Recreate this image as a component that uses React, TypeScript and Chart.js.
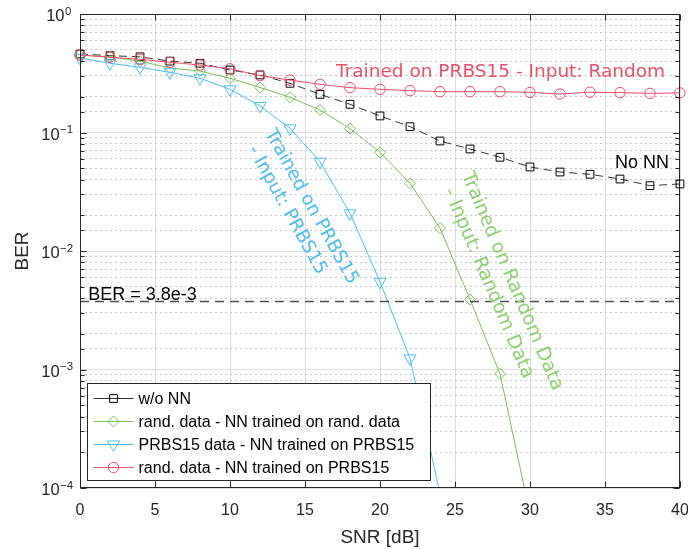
import React, { useEffect, useRef } from 'react';
import { Chart, registerables } from 'chart.js';

Chart.register(...registerables);

// ---------- data ----------
const snrDb = [0, 2, 4, 6, 8, 10, 12, 14, 16, 18, 20, 22, 24, 26, 28, 30, 32, 34, 36, 38, 40];
const berWithoutNN = [0.46, 0.445, 0.435, 0.4, 0.384, 0.337, 0.306, 0.26, 0.21, 0.173, 0.138, 0.112, 0.0848, 0.0726, 0.0618, 0.0512, 0.0464, 0.0444, 0.0405, 0.0356, 0.0368];
const berRandOnRand = [0.45, 0.435, 0.4, 0.35, 0.33, 0.287, 0.24, 0.198, 0.155, 0.108, 0.068, 0.0373, 0.0156, 0.0039, 0.00092, 0.00006, null, null, null, null, null];
const berPrbsOnPrbs = [0.425, 0.384, 0.355, 0.322, 0.287, 0.2315, 0.1675, 0.1085, 0.0567, 0.0208, 0.0055, 0.00124, 0.00009, null, null, null, null, null, null, null, null];
const berRandOnPrbs = [0.451, 0.431, 0.415, 0.391, 0.371, 0.345, 0.302, 0.277, 0.255, 0.239, 0.2315, 0.2254, 0.221, 0.221, 0.221, 0.218, 0.211, 0.219, 0.217, 0.214, 0.216];
const berThreshold = 3.8e-3;

const seriesLabels = [
  'w/o NN',
  'rand. data - NN trained on rand. data',
  'PRBS15 data - NN trained on PRBS15',
  'rand. data - NN trained on PRBS15',
];
const xTickValues = [0, 5, 10, 15, 20, 25, 30, 35, 40];
const yDecadeExponents = [0, -1, -2, -3, -4];

const xTitle = 'SNR [dB]';
const yTitle = 'BER';
const thresholdText = 'BER = 3.8e-3';
const noNNText = 'No NN';
const redText = 'Trained on PRBS15 - Input: Random';
const cyanLines = ['Trained on PRBS15', ' - Input: PRBS15'];
const greenLines = ['Trained on Random Data', '- Input: Random Data'];

// ---------- styles ----------
const C_BLACK = '#000000';
const C_GREEN = '#77c05a';
const C_CYAN = '#4dbeee';
const C_RED = '#ee4d6c';
const C_GREEN_TEXT = '#8fcf72';
const AXIS = '#262626';
const SANS = "'Liberation Sans', Arial, Helvetica, sans-serif";
const DEJA = "'DejaVu Sans', Verdana, sans-serif";

const isDecade = (v: number) => Math.abs(Math.log10(v) - Math.round(Math.log10(v))) < 1e-6;

type MarkerStyle = 'rect' | 'rectRot' | 'triangleDown' | 'circle';
const seriesStyles: { color: string; marker: MarkerStyle; r: number; dash: number[] }[] = [
  { color: C_BLACK, marker: 'rect', r: 5.5, dash: [8, 5] },
  { color: C_GREEN, marker: 'rectRot', r: 5.5, dash: [] },
  { color: C_CYAN, marker: 'triangleDown', r: 7, dash: [] },
  { color: C_RED, marker: 'circle', r: 5.2, dash: [] },
];

function drawMarker(ctx: CanvasRenderingContext2D, m: MarkerStyle, x: number, y: number, r: number, color: string) {
  ctx.save();
  ctx.setLineDash([]);
  ctx.strokeStyle = color;
  ctx.lineWidth = 1;
  ctx.beginPath();
  if (m === 'rect') {
    const s = r * Math.SQRT1_2;
    ctx.rect(x - s, y - s, 2 * s, 2 * s);
  } else if (m === 'rectRot') {
    ctx.moveTo(x - r, y);
    ctx.lineTo(x, y - r);
    ctx.lineTo(x + r, y);
    ctx.lineTo(x, y + r);
    ctx.closePath();
  } else if (m === 'triangleDown') {
    const sx = r * Math.sin(Math.PI / 3);
    const cy = r * Math.cos(Math.PI / 3);
    ctx.moveTo(x, y + r);
    ctx.lineTo(x - sx, y - cy);
    ctx.lineTo(x + sx, y - cy);
    ctx.closePath();
  } else {
    ctx.arc(x, y, r, 0, Math.PI * 2);
  }
  ctx.stroke();
  ctx.restore();
}

const overlayPlugin = {
  id: 'overlay',
  afterDatasetsDraw(chart: any) {
    const ctx: CanvasRenderingContext2D = chart.ctx;
    const ca = chart.chartArea;
    const xs = chart.scales.x;
    const ys = chart.scales.y;
    const px = (v: number) => xs.getPixelForValue(v);
    const py = (v: number) => ys.getPixelForValue(v);

    // threshold line
    ctx.save();
    ctx.beginPath();
    ctx.rect(ca.left, ca.top, ca.right - ca.left, ca.bottom - ca.top);
    ctx.clip();
    const ty = Math.round(py(berThreshold)) + 0.5;
    ctx.strokeStyle = '#4d4d4d';
    ctx.lineWidth = 1.6;
    ctx.setLineDash([9, 6]);
    ctx.beginPath();
    ctx.moveTo(ca.left, ty);
    ctx.lineTo(ca.right, ty);
    ctx.stroke();
    ctx.restore();

    // annotations
    ctx.save();
    ctx.textBaseline = 'alphabetic';
    ctx.textAlign = 'left';
    ctx.fillStyle = C_RED;
    ctx.font = `18.5px ${DEJA}`;
    ctx.fillText(redText, px(17.07), py(0.292));

    ctx.fillStyle = '#000';
    ctx.font = `18px ${SANS}`;
    ctx.fillText(noNNText, px(35.67), py(0.0502));
    ctx.fillText(thresholdText, px(0.55), py(berThreshold) - 1);

    // cyan rotated text
    ctx.save();
    ctx.translate(px(12.6), py(0.1034));
    ctx.rotate((61 * Math.PI) / 180);
    ctx.fillStyle = C_CYAN;
    ctx.font = `18.5px ${DEJA}`;
    ctx.textBaseline = 'middle';
    ctx.fillText(cyanLines[0], 0, 0);
    ctx.fillText(cyanLines[1], 0, 22.8);
    ctx.restore();

    // green rotated text
    ctx.save();
    ctx.translate(px(25.73), py(0.0455));
    ctx.rotate((67 * Math.PI) / 180);
    ctx.fillStyle = C_GREEN_TEXT;
    ctx.font = `19px ${DEJA}`;
    ctx.textBaseline = 'middle';
    ctx.fillText(greenLines[0], 0, 0);
    ctx.fillText(greenLines[1], 8, 22.5);
    ctx.restore();
    ctx.restore();

    // frame
    ctx.save();
    ctx.setLineDash([]);
    ctx.strokeStyle = AXIS;
    ctx.lineWidth = 1;
    const L = Math.round(ca.left) + 0.5;
    const R = Math.round(ca.right) - 0.5;
    const T = Math.round(ca.top) + 0.5;
    const B = Math.round(ca.bottom) - 0.5;
    ctx.strokeRect(L, T, R - L, B - T);
    ctx.beginPath();
    for (const t of ys.ticks) {
      const yy = Math.round(py(t.value)) + 0.5;
      const len = isDecade(t.value) ? 6 : 4;
      ctx.moveTo(L, yy);
      ctx.lineTo(L + len, yy);
      ctx.moveTo(R, yy);
      ctx.lineTo(R - len, yy);
    }
    for (const t of xs.ticks) {
      const xx = Math.round(px(t.value)) + 0.5;
      ctx.moveTo(xx, B);
      ctx.lineTo(xx, B - 6);
      ctx.moveTo(xx, T);
      ctx.lineTo(xx, T + 6);
    }
    ctx.stroke();

    // tick labels
    ctx.fillStyle = AXIS;
    ctx.font = `16px ${SANS}`;
    ctx.textAlign = 'center';
    ctx.textBaseline = 'alphabetic';
    for (const v of xTickValues) {
      ctx.fillText(String(v), px(v), ca.bottom + 27);
    }
    for (const e of yDecadeExponents) {
      const yy = py(Math.pow(10, e));
      const base = '10';
      const exp = e === 0 ? '0' : '\u2212' + String(-e);
      ctx.font = `16.5px ${SANS}`;
      const wb = ctx.measureText(base).width;
      ctx.font = `11.5px ${SANS}`;
      const we = ctx.measureText(exp).width + (e === 0 ? 0 : 3);
      const cx = ca.left - 21.5;
      const x0 = cx - (wb + we) / 2;
      ctx.textAlign = 'left';
      ctx.font = `16.5px ${SANS}`;
      ctx.fillText(base, x0, yy + 7);
      ctx.font = `11.5px ${SANS}`;
      ctx.fillText(exp, x0 + wb + 0.5, yy + 0.5);
    }

    // axis titles
    ctx.font = `19px ${SANS}`;
    ctx.textAlign = 'center';
    ctx.fillText(xTitle, (ca.left + ca.right) / 2, ca.bottom + 55);
    ctx.save();
    ctx.translate(27.5, (ca.top + ca.bottom) / 2);
    ctx.rotate(-Math.PI / 2);
    ctx.fillText(yTitle, 0, 0);
    ctx.restore();
    ctx.restore();

    // legend
    ctx.save();
    const bx = Math.round(ca.left + 7) + 0.5;
    const bw = 343;
    const bh = 97;
    const by = Math.round(ca.bottom - 8 - bh) + 0.5;
    ctx.fillStyle = '#ffffff';
    ctx.fillRect(bx, by, bw, bh);
    ctx.strokeStyle = AXIS;
    ctx.lineWidth = 1;
    ctx.strokeRect(bx, by, bw, bh);
    ctx.font = `16px ${SANS}`;
    ctx.textAlign = 'left';
    ctx.textBaseline = 'middle';
    seriesLabels.forEach((lab, i) => {
      const st = seriesStyles[i];
      const ry = by + 15 + i * 23;
      ctx.strokeStyle = i === 0 ? '#333333' : st.color;
      ctx.lineWidth = 1;
      ctx.setLineDash([]);
      ctx.beginPath();
      ctx.moveTo(bx + 6, ry);
      ctx.lineTo(bx + 46, ry);
      ctx.stroke();
      drawMarker(ctx, st.marker, bx + 26, ry, st.r, st.color);
      ctx.fillStyle = '#000';
      ctx.fillText(lab, bx + 51, ry + 1);
    });
    ctx.restore();
  },
};

const seriesValues = [berWithoutNN, berRandOnRand, berPrbsOnPrbs, berRandOnPrbs];
const pointStyleMap: Record<MarkerStyle, string> = {
  rect: 'rect',
  rectRot: 'rectRot',
  triangleDown: 'triangle',
  circle: 'circle',
};

export default function App() {
  const canvasRef = useRef<HTMLCanvasElement | null>(null);

  useEffect(() => {
    const canvas = canvasRef.current;
    if (!canvas) return;
    const datasets = seriesValues.map((vals, i) => {
      const st = seriesStyles[i];
      return {
        label: seriesLabels[i],
        data: snrDb.map((x, k) => ({ x, y: vals[k] })),
        borderColor: i === 0 ? '#333333' : st.color,
        backgroundColor: 'rgba(0,0,0,0)',
        borderWidth: 1,
        borderDash: st.dash,
        pointStyle: pointStyleMap[st.marker],
        pointRadius: st.r,
        pointRotation: st.marker === 'triangleDown' ? 180 : 0,
        pointBorderColor: st.color,
        pointBackgroundColor: 'rgba(0,0,0,0)',
        pointBorderWidth: 1,
        tension: 0,
        spanGaps: false,
        order: 4 - i,
        clip: { left: 10, right: 10, top: 10, bottom: 0 },
      };
    });

    const chart = new Chart(canvas, {
      type: 'line',
      data: { datasets } as any,
      options: {
        animation: false,
        responsive: false,
        devicePixelRatio: 1,
        events: [],
        layout: { padding: { top: 14, right: 8, left: 0, bottom: 0 } },
        plugins: { legend: { display: false }, tooltip: { enabled: false } },
        scales: {
          x: {
            type: 'linear',
            min: 0,
            max: 40,
            ticks: { display: false, stepSize: 5, autoSkip: false },
            grid: { color: '#dedede', lineWidth: 1, drawTicks: false },
            border: { display: false },
            afterFit: (s: any) => { s.height = 61; },
          },
          y: {
            type: 'logarithmic',
            min: 1e-4,
            max: 1,
            ticks: { display: false, autoSkip: false },
            grid: {
              drawTicks: false,
              lineWidth: 1,
              color: (c: any) => (c.tick && !isDecade(c.tick.value) ? '#c6c6c6' : '#dedede'),
            },
            border: {
              display: false,
              dash: (c: any) => (c.tick && !isDecade(c.tick.value) ? [2, 3] : []),
            },
            afterFit: (s: any) => { s.width = 80; },
          },
        },
      } as any,
      plugins: [overlayPlugin],
    });
    return () => chart.destroy();
  }, []);

  return (
    <div style={{ position: 'absolute', left: 0, top: 0, width: 688, height: 549, background: '#fff' }}>
      <canvas ref={canvasRef} width={688} height={549} style={{ width: 688, height: 549, display: 'block' }} />
    </div>
  );
}
